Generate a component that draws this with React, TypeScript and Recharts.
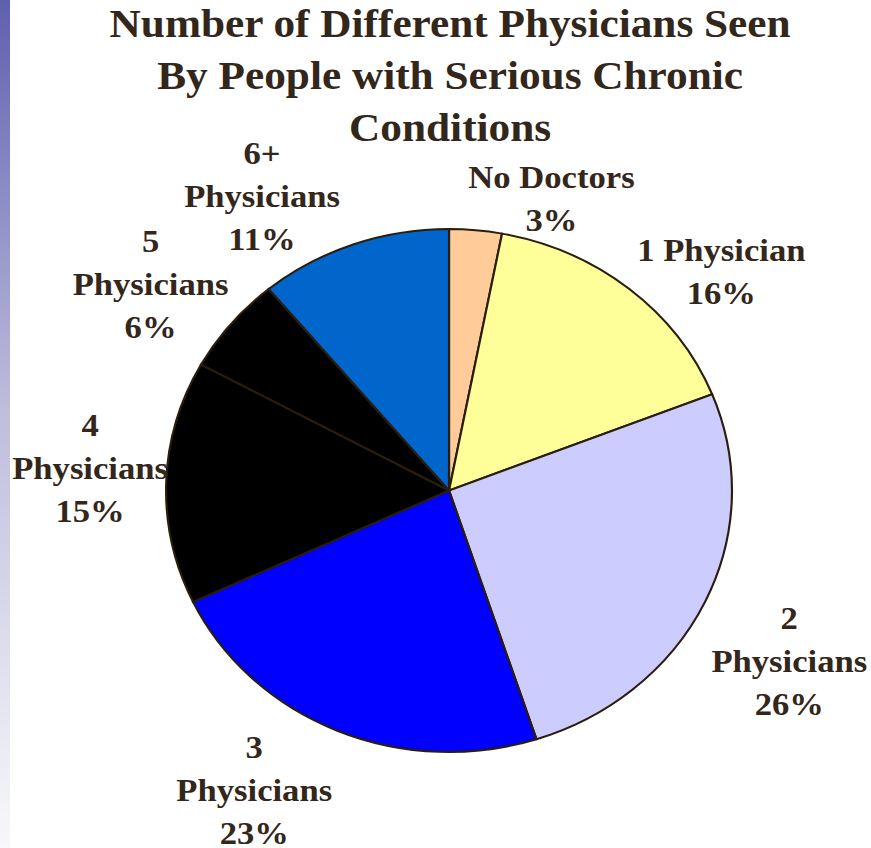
import React from 'react';
import { PieChart, Pie, Cell } from 'recharts';

const categories = ['No Doctors', '1 Physician', '2 Physicians', '3 Physicians', '4 Physicians', '5 Physicians', '6+ Physicians'];
const labelLines = [
  ['No Doctors'],
  ['1 Physician'],
  ['2', 'Physicians'],
  ['3', 'Physicians'],
  ['4', 'Physicians'],
  ['5', 'Physicians'],
  ['6+', 'Physicians'],
];
const values = [3, 16, 26, 23, 15, 6, 11];
const colors = ['#FFCC99', '#FFFF99', '#CCCCFF', '#0000FF', '#000000', '#000000', '#0066CC'];
const titleLines = ['Number of Different Physicians Seen', 'By People with Serious Chronic', 'Conditions'];

// manual label placement tweaks (angle shift in degrees clockwise, extra radius)
const labelNudge = [
  { da: 12.6, dr: 45 },
  { da: 9.4, dr: 72 },
  { da: 3.2, dr: 96 },
  { da: 7.6, dr: 88 },
  { da: 2.1, dr: 71 },
  { da: -2.8, dr: 83 },
  { da: -10.6, dr: 80 },
];

const data = categories.map((name, i) => ({ name, value: values[i] }));

const STRETCH = 1.082;
const W = 805;
const H = 848;
const TEXT = '#33261a';
const FONT = 'Liberation Serif';

const renderLabel = (props: any) => {
  const { cx, cy, midAngle, outerRadius, index, value } = props;
  const nudge = labelNudge[index];
  const cw = 90 - midAngle + nudge.da; // clockwise from top
  const rad = (cw * Math.PI) / 180;
  const r = outerRadius + nudge.dr;
  const x = cx + r * Math.sin(rad);
  const y = cy - r * Math.cos(rad);
  const lines = [...labelLines[index], `${value}%`];
  const step = 43;
  const n = lines.length;
  return (
    <g key={`lbl-${index}`}>
      {lines.map((t, i) => (
        <text
          key={i}
          x={x}
          y={y + (i - (n - 1) / 2) * step + 11}
          textAnchor="middle"
          fill={TEXT}
          fontFamily={FONT}
          fontWeight="bold"
          fontSize={32}
          style={{ fontFamily: FONT, fontWeight: 700 }}
        >
          {t}
        </text>
      ))}
    </g>
  );
};

export default function App() {
  return (
    <div style={{ position: 'fixed', left: 0, top: 0, width: 871, height: 848, background: '#ffffff', overflow: 'hidden', fontFamily: FONT, fontWeight: 700 }}>
      <span style={{ position: 'absolute', left: 0, top: 0, opacity: 0, fontFamily: FONT, fontWeight: 700 }}>{'\u200b'}</span>
      <div
        style={{
          position: 'absolute',
          left: 0,
          top: 0,
          width: 10,
          height: 848,
          background: 'linear-gradient(to bottom, #5f5faf 0%, #bdbddd 48%, #f8f8fb 100%)',
        }}
      />
      <div style={{ position: 'absolute', left: 0, top: 0, width: W, height: H, transform: `scaleX(${STRETCH})`, transformOrigin: '0 0' }}>
        <PieChart width={W} height={H} margin={{ top: 0, right: 0, bottom: 0, left: 0 }}>
          {titleLines.map((t, i) => (
            <text
              key={`t${i}`}
              x={416}
              y={37 + i * 52}
              textAnchor="middle"
              fill={TEXT}
              fontFamily={FONT}
              fontWeight="bold"
              fontSize={40}
              style={{ fontFamily: FONT, fontWeight: 700 }}
            >
              {t}
            </text>
          ))}
          <Pie
            data={data}
            dataKey="value"
            nameKey="name"
            cx={415}
            cy={490.5}
            outerRadius={261.5}
            startAngle={90}
            endAngle={-270}
            stroke="#2b1d0e"
            strokeWidth={2}
            label={renderLabel}
            labelLine={false}
            isAnimationActive={false}
          >
            {data.map((d, i) => (
              <Cell key={d.name} fill={colors[i]} />
            ))}
          </Pie>
        </PieChart>
      </div>
    </div>
  );
}
